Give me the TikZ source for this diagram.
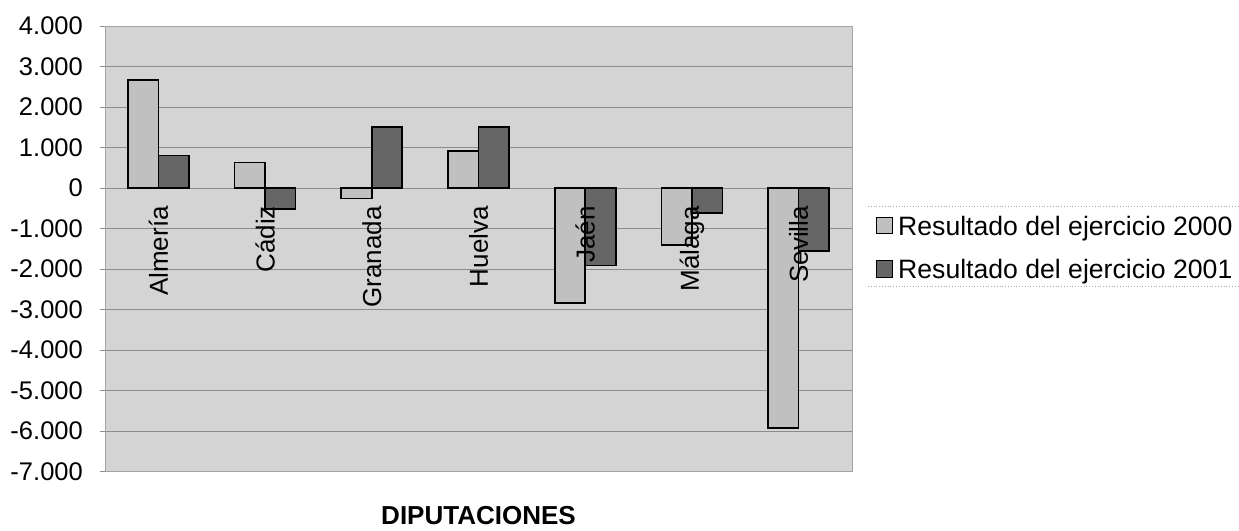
\documentclass[tikz,border=0pt]{standalone}
\usepackage{fontspec}
\setmainfont{Liberation Sans}
\definecolor{plotbg}{HTML}{D4D4D4}
\definecolor{gridc}{HTML}{8C8C8C}
\definecolor{barA}{HTML}{C0C0C0}
\definecolor{barB}{HTML}{666666}
\definecolor{legline}{HTML}{A8A8A8}
\begin{document}
\begin{tikzpicture}[x=1pt,y=-1pt,
  lab/.style={font=\fontsize{25.5}{30}\selectfont, inner sep=0pt},
  leglab/.style={font=\fontsize{26.6}{30}\selectfont, inner sep=0pt, anchor=base west},
  catlab/.style={font=\fontsize{26}{30}\selectfont, inner sep=0pt, rotate=90, anchor=east},
  gridline/.style={draw=gridc, line width=0.9pt},
  plotframe/.style={draw=gridc!80, line width=0.8pt},
  barstyleA/.style={fill=barA, draw=black, line width=1.6pt},
  barstyleB/.style={fill=barB, draw=black, line width=1.6pt},
  legbox/.style={draw=black, line width=1pt}]
\useasboundingbox (0,0) rectangle (1239,530);
\fill[white] (0,0) rectangle (1239,530);
% plot area
\fill[plotbg] (105,26) rectangle (852,471.5);
\foreach \v in {3,2,1,0,-1,-2,-3,-4,-5,-6}{
  \draw[gridline] (100,188-\v*40.5) -- (852,188-\v*40.5);
}
\draw[plotframe] (105,26) rectangle (852,471.5);
\draw[gridline] (100,26) -- (105,26);
\draw[gridline] (100,471.5) -- (105,471.5);
% tick labels
\foreach \v/\t in {4/4.000,3/3.000,2/2.000,1/1.000,0/0,-1/-1.000,-2/-2.000,-3/-3.000,-4/-4.000,-5/-5.000,-6/-6.000,-7/-7.000}{
  \node[lab, anchor=east] (tick\v) at (83,188-\v*40.5) {\t};
}
% bars
\foreach \i/\a/\b in {0/2.66/0.80,1/0.63/-0.52,2/-0.26/1.50,3/0.91/1.51,4/-2.84/-1.91,5/-1.40/-0.62,6/-5.93/-1.56}{
  \pgfmathsetmacro\cx{105+(\i+0.5)*106.714}
  \filldraw[barstyleA] (\cx-30.5,188) rectangle (\cx,188-\a*40.5);
  \filldraw[barstyleB] (\cx,188) rectangle (\cx+30.5,188-\b*40.5);
}
% category labels
\foreach \i/\n in {0/Almería,1/Cádiz,2/Granada,3/Huelva,4/Jaén,5/Málaga,6/Sevilla}{
  \pgfmathsetmacro\cx{105+(\i+0.5)*106.714}
  \node[catlab] (cat\i) at (\cx,206) {\n};
}
% legend
\draw[legline, line width=0.8pt, dotted] (868,206) -- (1239,206);
\draw[legline, line width=0.8pt, dotted] (868,286) -- (1239,286);
\filldraw[legbox, fill=barA] (876,217) rectangle (892.5,233.5);
\filldraw[legbox, fill=barB] (876,260.5) rectangle (892.5,277);
\node[leglab] (leg1) at (898,235) {Resultado del ejercicio 2000};
\node[leglab] (leg2) at (898,278) {Resultado del ejercicio 2001};
% axis title
\node[font=\bfseries\fontsize{26}{30}\selectfont, inner sep=0pt] (title) at (478.5,516) {DIPUTACIONES};
\end{tikzpicture}
\end{document}
